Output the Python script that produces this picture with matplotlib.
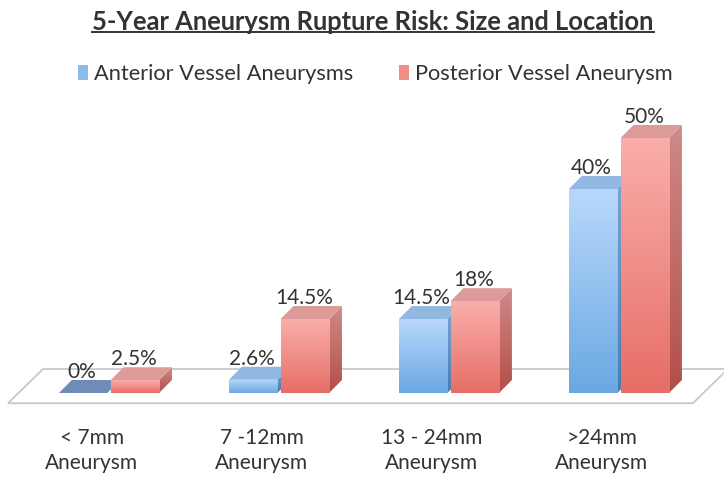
import numpy as np
import matplotlib.pyplot as plt
from matplotlib.patches import Polygon, Rectangle, Patch
from matplotlib.colors import LinearSegmentedColormap
from matplotlib.lines import Line2D

title = '5-Year Aneurysm Rupture Risk: Size and Location'
series_names = ['Anterior Vessel Aneurysms', 'Posterior Vessel Aneurysm']
categories = ['< 7mm\nAneurysm', '7 -12mm\nAneurysm', '13 - 24mm\nAneurysm', '>24mm\nAneurysm']
anterior = [0, 2.6, 14.5, 40]
posterior = [2.5, 14.5, 18, 50]
anterior_labels = ['0%', '2.6%', '14.5%', '40%']
posterior_labels = ['2.5%', '14.5%', '18%', '50%']

plt.rcParams['font.family'] = ['Lato', 'DejaVu Sans']
TXT = '#333333'

fig = plt.figure(figsize=(7.24, 4.82), dpi=100)
ax = fig.add_axes([0, 0, 1, 1])
ax.axis('off')

W = 0.285          # bar width (category units)
DX, DY = 0.076, 2.55  # depth offset of the boxes

blue = dict(front=('#6aa8e2', '#b8d8fb'), side=('#4a7cb2', '#7ea4d0'), top='#92b8e2', flat='#6f8cb6')
red = dict(front=('#e66e66', '#faaeab'), side=('#b34e48', '#cf8a88'), top='#dc9a98', flat='#d88a88')

grad = np.linspace(0, 1, 256).reshape(-1, 1)


def shaded(patch, colors, extent):
    ax.add_patch(patch)
    cmap = LinearSegmentedColormap.from_list('g', colors)
    im = ax.imshow(grad, extent=extent, cmap=cmap, origin='lower',
                   aspect='auto', interpolation='bilinear', zorder=patch.get_zorder())
    im.set_clip_path(patch)


def box(xc, h, style, z):
    x0, x1 = xc - W / 2, xc + W / 2
    if h <= 0:
        ax.add_patch(Polygon([(x0, 0), (x1, 0), (x1 + DX, DY), (x0 + DX, DY)],
                             closed=True, facecolor=style['flat'], edgecolor='none', zorder=z))
        return
    side = Polygon([(x1, 0), (x1 + DX, DY), (x1 + DX, h + DY), (x1, h)],
                   closed=True, facecolor='none', edgecolor='none', zorder=z)
    shaded(side, style['side'], [x1, x1 + DX, 0, h + DY])
    ax.add_patch(Polygon([(x0, h), (x1, h), (x1 + DX, h + DY), (x0 + DX, h + DY)],
                         closed=True, facecolor=style['top'], edgecolor='none', zorder=z))
    front = Rectangle((x0, 0), W, h, facecolor='none', edgecolor='none', zorder=z)
    shaded(front, style['front'], [x0, x1, 0, h])


# floor plane
ax.add_patch(Polygon([(-0.594, -2.0), (3.435, -2.0), (3.641, 4.7), (-0.388, 4.7)],
                     closed=True, facecolor='white', edgecolor='#c8c8c8', lw=1.3, zorder=1))

x = np.arange(len(categories))
off = 0.152
for i in x:
    box(i - off, anterior[i], blue, 2 + 2 * i)
    box(i + off, posterior[i], red, 3 + 2 * i)
    ax.text(i - off - 0.01, anterior[i] + DY - 0.4, anterior_labels[i], ha='center', va='bottom',
            fontsize=15, color=TXT, zorder=20)
    ax.text(i + off - 0.005, posterior[i] + DY - 0.4, posterior_labels[i], ha='center', va='bottom',
            fontsize=15, color=TXT, zorder=20)
    ax.text(i - 0.1, -6.8, categories[i], ha='center', va='top', fontsize=15,
            color=TXT, linespacing=1.35)

ax.set_xlim(-0.641, 3.618)
ax.set_ylim(-17.45, 77.06)

handles = [Patch(facecolor='#8dbbea'), Patch(facecolor='#f08f8a')]
fig.legend(handles, series_names, loc='center', bbox_to_anchor=(0.518, 0.846), ncol=2,
           frameon=False, fontsize=15.7, handlelength=0.48, handleheight=0.62,
           handletextpad=0.25, columnspacing=2.1, labelcolor=TXT)

t = fig.text(0.515, 0.955, title, ha='center', va='center', fontsize=18.4,
             fontweight='bold', color=TXT)
fig.canvas.draw()
bb = t.get_window_extent().transformed(fig.transFigure.inverted())
fig.add_artist(Line2D([bb.x0, bb.x1], [bb.y0 + 0.004, bb.y0 + 0.004],
                      transform=fig.transFigure, color=TXT, lw=1.4))

fig.savefig('out.png', dpi=100)
